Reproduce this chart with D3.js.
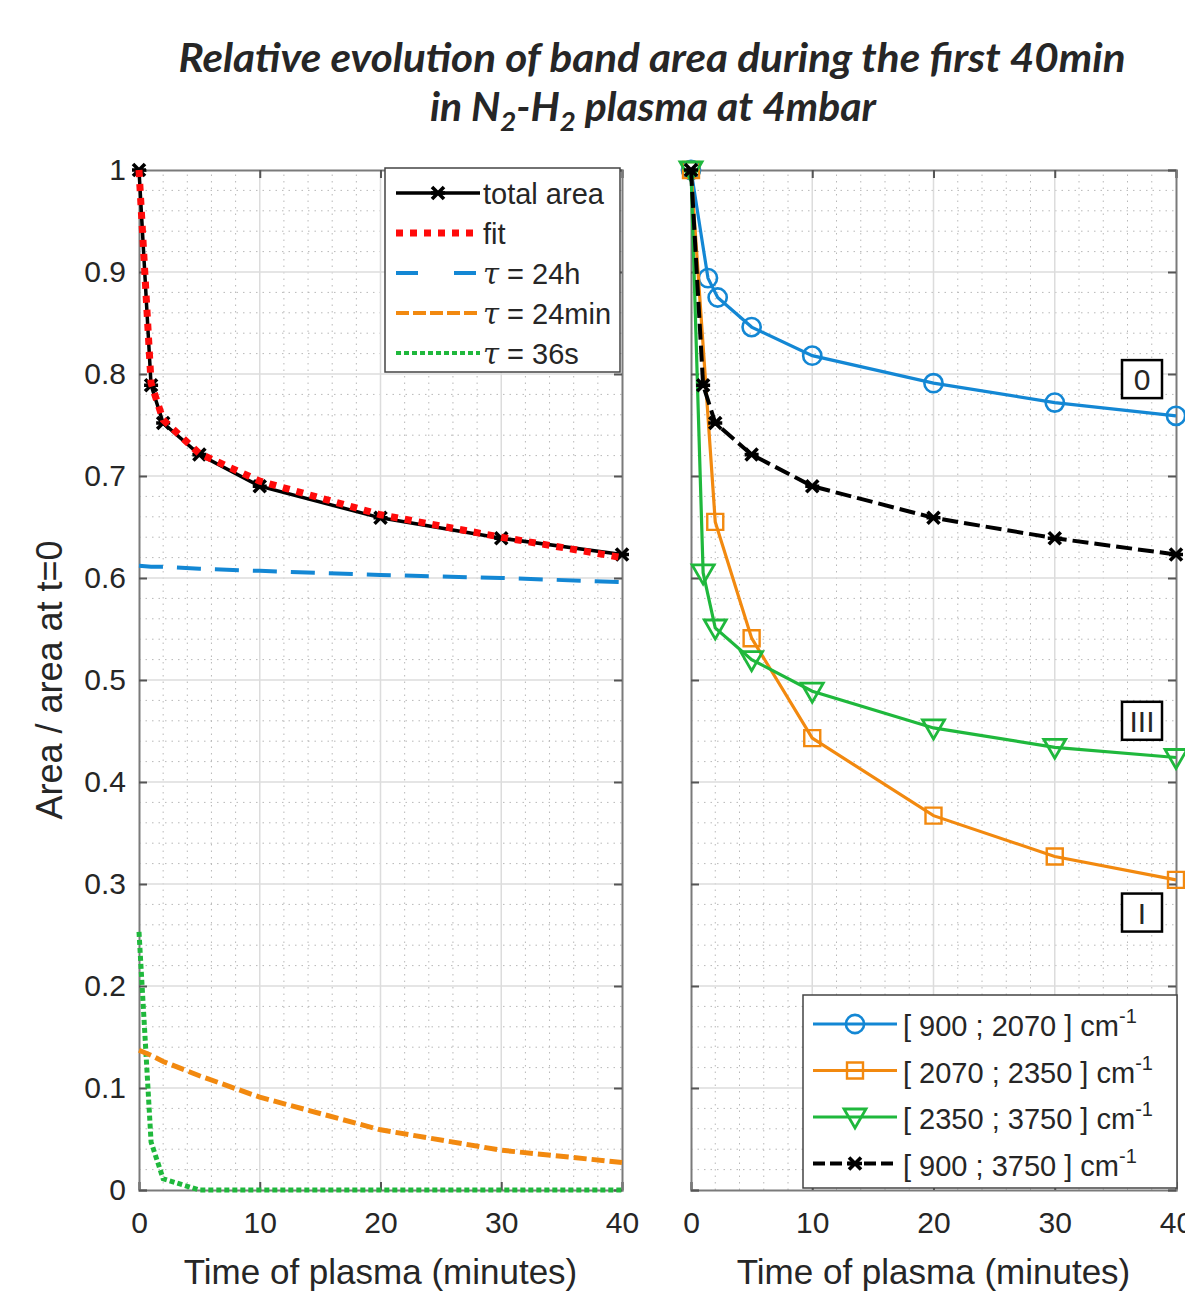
<!DOCTYPE html>
<html>
<head>
<meta charset="utf-8">
<script src="https://cdn.jsdelivr.net/npm/d3@7"></script>
<style>
  body { margin: 0; background: #fff; }
  text { font-family: "Liberation Sans", Arial, sans-serif; fill: #262626; }
</style>
</head>
<body>
<div id="vis"></div>
<script>

/* Data */
/* ---- */

var times = [0, 1, 2, 5, 10, 20, 30, 40];

// left panel
var totalArea = [1.0, 0.789, 0.752, 0.721, 0.690, 0.659, 0.639, 0.623];
var fitArea = [1.0, 0.791, 0.755, 0.722, 0.695, 0.662, 0.640, 0.620];
var tau24h = [0.612, 0.611, 0.611, 0.609, 0.607, 0.603, 0.600, 0.596];
var tau24min = [0.137, 0.132, 0.126, 0.112, 0.091, 0.059, 0.039, 0.027];
var tau36s = [0.253, 0.047, 0.011, 0.0, 0.0, 0.0, 0.0, 0.0];

// right panel
var bandTimesBlue = [0, 1.4, 2.2, 5, 10, 20, 30, 40];
var band900_2070 = [1.0, 0.894, 0.875, 0.846, 0.818, 0.791, 0.772, 0.759];
var bandTimesOrange = [0, 2, 5, 10, 20, 30, 40];
var band2070_2350 = [1.0, 0.655, 0.541, 0.443, 0.367, 0.327, 0.304];
var band2350_3750 = [1.0, 0.605, 0.551, 0.520, 0.489, 0.453, 0.434, 0.424];
var band900_3750 = [1.0, 0.789, 0.752, 0.721, 0.690, 0.659, 0.639, 0.623];

var xTicks = [0, 10, 20, 30, 40];
var yTicks = [0, 0.1, 0.2, 0.3, 0.4, 0.5, 0.6, 0.7, 0.8, 0.9, 1];

var regionLabels = [
  { text: '0', y: 0.795 },
  { text: 'III', y: 0.46 },
  { text: 'I', y: 0.272 }
];


/* Setup */
/* ----- */

var width = 1185, height = 1294;

var svg = d3.select('#vis').append('svg')
    .attr('width', width)
    .attr('height', height);

var col = { blue: '#1387d4', orange: '#f2890f', green: '#1fb83c', red: '#ff0a0a', black: '#000' };

var yScale = d3.scaleLinear().domain([0, 1]).range([1190, 170]);
var xLeft = d3.scaleLinear().domain([0, 40]).range([139, 622]);
var xRight = d3.scaleLinear().domain([0, 40]).range([691, 1176]);

function zip(xs, ys) { return xs.map(function(x, i) { return [x, ys[i]]; }); }

function drawFrame(x, showY) {

  var g = svg.append('g');

  // minor grid
  g.append('g').selectAll('line')
    .data(d3.range(0, 40.01, 2).filter(function(d) { return d % 10 !== 0; }))
    .enter().append('line')
      .attr('x1', function(d) { return x(d); }).attr('x2', function(d) { return x(d); })
      .attr('y1', yScale(0)).attr('y2', yScale(1))
      .attr('stroke', '#b8b8b8').attr('stroke-width', 1).attr('stroke-dasharray', '1.5,5');

  g.append('g').selectAll('line')
    .data(d3.range(0, 1.001, 0.02).filter(function(d) { return Math.round(d * 100) % 10 !== 0; }))
    .enter().append('line')
      .attr('x1', x(0)).attr('x2', x(40))
      .attr('y1', function(d) { return yScale(d); }).attr('y2', function(d) { return yScale(d); })
      .attr('stroke', '#b8b8b8').attr('stroke-width', 1).attr('stroke-dasharray', '1.5,5');

  // major grid
  g.append('g').selectAll('line').data(xTicks.slice(1, -1))
    .enter().append('line')
      .attr('x1', function(d) { return x(d); }).attr('x2', function(d) { return x(d); })
      .attr('y1', yScale(0)).attr('y2', yScale(1))
      .attr('stroke', '#dcdcdc').attr('stroke-width', 1.5);

  g.append('g').selectAll('line').data(yTicks.slice(1, -1))
    .enter().append('line')
      .attr('x1', x(0)).attr('x2', x(40))
      .attr('y1', function(d) { return yScale(d); }).attr('y2', function(d) { return yScale(d); })
      .attr('stroke', '#dcdcdc').attr('stroke-width', 1.5);

  // axes
  var xAxis = g.append('g').attr('transform', 'translate(0,' + yScale(0) + ')')
    .call(d3.axisBottom(x).tickValues(xTicks).tickSize(-8).tickPadding(22).tickFormat(d3.format('d')));
  var xTop = g.append('g').attr('transform', 'translate(0,' + yScale(1) + ')')
    .call(d3.axisTop(x).tickValues(xTicks).tickSize(-8).tickFormat(''));
  var yAxis = g.append('g').attr('transform', 'translate(' + x(0) + ',0)')
    .call(d3.axisLeft(yScale).tickValues(yTicks).tickSize(-8).tickPadding(13)
      .tickFormat(showY ? function(d) { return d === 0 || d === 1 ? d3.format('d')(d) : d3.format('.1f')(d); } : ''));
  var yRight = g.append('g').attr('transform', 'translate(' + x(40) + ',0)')
    .call(d3.axisRight(yScale).tickValues(yTicks).tickSize(-8).tickFormat(''));

  [xAxis, xTop, yAxis, yRight].forEach(function(a) {
    a.selectAll('path').attr('stroke', '#7a7a7a').attr('stroke-width', 2);
    a.selectAll('line').attr('stroke', '#555').attr('stroke-width', 2);
    a.selectAll('text').style('font-size', '30px').attr('fill', '#262626');
  });
  xAxis.selectAll('text').attr('dy', '0.71em');

  // x label
  g.append('text')
    .attr('x', (x(0) + x(40)) / 2 + 0).attr('y', 1284)
    .attr('text-anchor', 'middle')
    .style('font-size', '35px')
    .text('Time of plasma (minutes)');

  return g;

} // drawFrame()

function drawLine(g, x, pts, colour, w, dash) {
  var line = d3.line().x(function(d) { return x(d[0]); }).y(function(d) { return yScale(d[1]); });
  g.append('path').datum(pts)
    .attr('d', line)
    .attr('fill', 'none')
    .attr('stroke', colour)
    .attr('stroke-width', w)
    .attr('stroke-dasharray', dash || null);
} // drawLine()

function drawMarkers(g, x, pts, type, colour) {
  var sel = g.append('g').selectAll('path').data(pts).enter().append('path')
    .attr('transform', function(d) { return 'translate(' + x(d[0]) + ',' + yScale(d[1]) + ')'; });
  styleMarker(sel, type, colour);
} // drawMarkers()

function styleMarker(sel, type, colour) {
  if (type === 'star') {
    sel.attr('d', 'M-6,-6L6,6M-6,6L6,-6M-7,0L7,0')
      .attr('fill', 'none').attr('stroke', colour).attr('stroke-width', 3.6);
  } else if (type === 'circle') {
    sel.attr('d', d3.symbol().type(d3.symbolCircle).size(260))
      .attr('fill', 'none').attr('stroke', colour).attr('stroke-width', 2.6);
  } else if (type === 'square') {
    sel.attr('d', 'M-8,-8H8V8H-8Z')
      .attr('fill', 'none').attr('stroke', colour).attr('stroke-width', 2.4);
  } else if (type === 'triangle') {
    sel.attr('d', 'M-11,-8H11L0,11Z')
      .attr('fill', 'none').attr('stroke', colour).attr('stroke-width', 2.8).attr('stroke-linejoin', 'miter');
  }
} // styleMarker()


/* Title */
/* ----- */

var title = svg.append('g').attr('class', 'title');
title.append('text')
  .attr('x', 652).attr('y', 72)
  .attr('text-anchor', 'middle')
  .attr('textLength', 947).attr('lengthAdjust', 'spacingAndGlyphs')
  .style('font-family', 'Lato, "Open Sans", sans-serif')
  .style('font-weight', 'bold').style('font-style', 'italic').style('font-size', '40px')
  .attr('fill', '#000')
  .text('Relative evolution of band area during the first 40min');

var t2 = title.append('text')
  .attr('x', 653).attr('y', 121)
  .attr('text-anchor', 'middle')
  .attr('textLength', 446).attr('lengthAdjust', 'spacingAndGlyphs')
  .style('font-family', 'Lato, "Open Sans", sans-serif')
  .style('font-weight', 'bold').style('font-style', 'italic').style('font-size', '40px')
  .attr('fill', '#000');
t2.append('tspan').text('in N');
t2.append('tspan').attr('dy', 10).style('font-size', '27px').text('2');
t2.append('tspan').attr('dy', -10).text('-H');
t2.append('tspan').attr('dy', 10).style('font-size', '27px').text('2');
t2.append('tspan').attr('dy', -10).text(' plasma at 4mbar');


/* Left panel */
/* ---------- */

var gl = drawFrame(xLeft, true);

drawLine(gl, xLeft, zip(times, tau36s), col.green, 5, '5,3');
drawLine(gl, xLeft, zip(times, tau24min), col.orange, 5, '13,5');
drawLine(gl, xLeft, zip(times, tau24h), col.blue, 4, '24,14');
drawLine(gl, xLeft, zip(times, totalArea), col.black, 3.5);
drawMarkers(gl, xLeft, zip(times, totalArea), 'star', col.black);
drawLine(gl, xLeft, zip(times, fitArea), col.red, 7, '7,7');

// y label
svg.append('text')
  .attr('transform', 'translate(62,' + yScale(0.5) + ') rotate(-90)')
  .attr('text-anchor', 'middle')
  .style('font-size', '36px')
  .text('Area / area at t=0');

// left legend
var legL = svg.append('g').attr('transform', 'translate(385,168)');
legL.append('rect').attr('width', 235).attr('height', 204)
  .attr('fill', '#fff').attr('stroke', '#444').attr('stroke-width', 1.5);

var legLItems = [
  { label: 'total area', tau: false, colour: col.black, w: 3.5, dash: null, marker: 'star' },
  { label: 'fit', tau: false, colour: col.red, w: 7, dash: '7,7' },
  { label: ' = 24h', tau: true, colour: col.blue, w: 4, dash: '22,36' },
  { label: ' = 24min', tau: true, colour: col.orange, w: 4, dash: '13,4' },
  { label: ' = 36s', tau: true, colour: col.green, w: 4, dash: '5,3' }
];

legLItems.forEach(function(d, i) {
  var y = 25 + i * 40;
  legL.append('line').attr('x1', 11).attr('x2', 95).attr('y1', y).attr('y2', y)
    .attr('stroke', d.colour).attr('stroke-width', d.w).attr('stroke-dasharray', d.dash);
  if (d.marker) styleMarker(legL.append('path').attr('transform', 'translate(53,' + y + ')'), d.marker, d.colour);
  var t = legL.append('text').attr('x', 98).attr('y', y + 11).style('font-size', '29px');
  if (d.tau) t.append('tspan').style('font-style', 'italic').style('font-family', '"DejaVu Serif", serif').text('τ');
  t.append('tspan').text(d.label);
});


/* Right panel */
/* ----------- */

var gr = drawFrame(xRight, false);

var rightSeries = [
  { pts: zip(bandTimesBlue, band900_2070), colour: col.blue, marker: 'circle', dash: null, w: 3.2, label: '[ 900 ; 2070 ] cm' },
  { pts: zip(bandTimesOrange, band2070_2350), colour: col.orange, marker: 'square', dash: null, w: 3.2, label: '[ 2070 ; 2350 ] cm' },
  { pts: zip(times, band2350_3750), colour: col.green, marker: 'triangle', dash: null, w: 3.2, label: '[ 2350 ; 3750 ] cm' },
  { pts: zip(times, band900_3750), colour: col.black, marker: 'star', dash: '16,6', w: 4, label: '[ 900 ; 3750 ] cm' }
];

rightSeries.forEach(function(s) {
  drawLine(gr, xRight, s.pts, s.colour, s.w, s.dash);
  drawMarkers(gr, xRight, s.pts, s.marker, s.colour);
});

// region labels
regionLabels.forEach(function(d) {
  var cy = yScale(d.y);
  gr.append('rect').attr('x', 1122).attr('y', cy - 19).attr('width', 40).attr('height', 38)
    .attr('fill', '#fff').attr('stroke', '#000').attr('stroke-width', 2.5);
  gr.append('text').attr('x', 1142).attr('y', cy + 11).attr('text-anchor', 'middle')
    .style('font-size', '30px').attr('fill', '#000').text(d.text);
});

// right legend
var legR = svg.append('g').attr('transform', 'translate(803,995)');
legR.append('rect').attr('width', 374).attr('height', 193)
  .attr('fill', '#fff').attr('stroke', '#444').attr('stroke-width', 1.5);

rightSeries.forEach(function(s, i) {
  var y = 29 + i * 46.5;
  legR.append('line').attr('x1', 10).attr('x2', 94).attr('y1', y).attr('y2', y)
    .attr('stroke', s.colour).attr('stroke-width', s.w).attr('stroke-dasharray', s.dash ? '12,5' : null);
  styleMarker(legR.append('path').attr('transform', 'translate(52,' + y + ')'), s.marker, s.colour);
  var t = legR.append('text').attr('x', 100).attr('y', y + 12).style('font-size', '29px');
  t.append('tspan').text(s.label);
  t.append('tspan').attr('dy', -13).style('font-size', '20px').text('-1');
});

</script>
</body>
</html>
